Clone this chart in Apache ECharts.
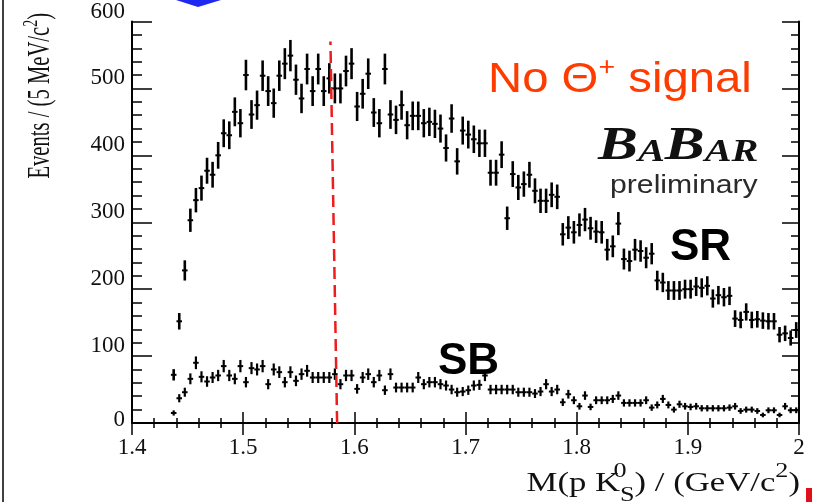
<!DOCTYPE html>
<html>
<head>
<meta charset="utf-8">
<style>
  html, body { margin: 0; padding: 0; background: #fff; }
  #chart { width: 815px; height: 502px; }
</style>
</head>
<body>
<div id="chart"></div>
<script src="https://cdn.jsdelivr.net/npm/echarts/dist/echarts.min.js"></script>
<script>
// bin centres, 5 MeV/c^2 bins
const binCenters = [
  1.4375,1.4425,1.4475,1.4525,1.4575,1.4625,1.4675,1.4725,1.4775,1.4825,
  1.4875,1.4925,1.4975,1.5025,1.5075,1.5125,1.5175,1.5225,1.5275,1.5325,
  1.5375,1.5425,1.5475,1.5525,1.5575,1.5625,1.5675,1.5725,1.5775,1.5825,
  1.5875,1.5925,1.5975,1.6025,1.6075,1.6125,1.6175,1.6225,1.6275,1.6325,
  1.6375,1.6425,1.6475,1.6525,1.6575,1.6625,1.6675,1.6725,1.6775,1.6825,
  1.6875,1.6925,1.6975,1.7025,1.7075,1.7125,1.7175,1.7225,1.7275,1.7325,
  1.7375,1.7425,1.7475,1.7525,1.7575,1.7625,1.7675,1.7725,1.7775,1.7825,
  1.7875,1.7925,1.7975,1.8025,1.8075,1.8125,1.8175,1.8225,1.8275,1.8325,
  1.8375,1.8425,1.8475,1.8525,1.8575,1.8625,1.8675,1.8725,1.8775,1.8825,
  1.8875,1.8925,1.8975,1.9025,1.9075,1.9125,1.9175,1.9225,1.9275,1.9325,
  1.9375,1.9425,1.9475,1.9525,1.9575,1.9625,1.9675,1.9725,1.9775,1.9825,
  1.9875,1.9925,1.9975
];

// signal region
const srCounts = [
  72,152,228,303,333,351,377,371,400,433,
  430,465,448,520,461,475,519,496,478,519,
  537,549,513,485,529,496,529,496,515,500,
  500,526,537,473,492,522,464,448,529,461,
  453,475,445,459,459,448,450,447,440,411,
  455,391,437,431,424,418,418,374,374,401,
  306,372,352,357,371,347,332,332,341,338,
  282,292,285,296,304,291,286,285,259,264,
  298,245,242,259,257,247,253,213,210,198,
  198,198,200,200,204,202,205,186,191,188,
  190,156,154,166,154,155,153,152,152,132,
  134,127,139
];

// sideband
const sbCounts = [
  15,37,46,66,90,69,62,68,71,85,
  71,66,85,61,82,80,85,58,80,76,
  61,76,63,73,78,68,68,68,68,73,
  58,71,71,51,68,73,61,71,49,73,
  53,53,53,53,68,58,61,61,58,56,
  50,46,47,49,56,57,71,50,50,50,
  50,50,46,46,46,44,47,58,47,50,
  31,43,34,25,41,24,34,34,34,36,
  41,30,30,30,30,34,23,27,36,27,
  20,28,25,24,25,22,22,22,22,22,
  23,25,18,20,20,18,12,19,19,12,
  25,19,19
];

// dashed reference line
const thetaLineX = [1.5845, 1.5785];
const thetaLineY = [0, 570];

const halfBin = (binCenters[1] - binCenters[0]) / 2;

function errorBars(lw) {
  return function (params, api) {
    const x = api.value(0), n = api.value(1);
    const e = Math.sqrt(n);
    const hi = api.coord([x, n + e]);
    const lo = api.coord([x, Math.max(n - e, 0)]);
    const l = api.coord([x - halfBin, n]);
    const r = api.coord([x + halfBin, n]);
    return {
      type: 'group',
      children: [
        { type: 'line', shape: { x1: hi[0], y1: hi[1], x2: lo[0], y2: lo[1] }, style: { stroke: '#000', lineWidth: lw } },
        { type: 'line', shape: { x1: l[0], y1: l[1], x2: r[0], y2: r[1] }, style: { stroke: '#000', lineWidth: 2 } }
      ]
    };
  };
}

const serif = 'Liberation Serif';
const sans = 'Liberation Sans';

function frameAxis(pos, tickLen, minorLen, labels) {
  return {
    type: 'value',
    position: pos,
    axisLine: { show: true, lineStyle: { color: '#000', width: 2 } },
    axisTick: { show: true, inside: true, length: tickLen, lineStyle: { color: '#000', width: 1.5 } },
    minorTick: { show: true, splitNumber: 5, length: minorLen, lineStyle: { color: '#000', width: 1.5 } },
    splitLine: { show: false },
    axisLabel: { show: labels }
  };
}

const xBottom = Object.assign(frameAxis('bottom', 11, 5, true), { min: 1.4, max: 2, interval: 0.1 });
xBottom.axisLabel = {
  show: true, margin: 13, color: '#111', fontFamily: serif, fontSize: 23,
  formatter: v => (Math.abs(v - 2) < 1e-9 ? '2' : v.toFixed(1))
};
const xTop = Object.assign(frameAxis('top', 12, 5, false), { min: 1.4, max: 2, interval: 0.1 });

const yLeft = Object.assign(frameAxis('left', 20, 10, true), { min: 0, max: 600, interval: 100 });
yLeft.axisLabel = {
  show: true, margin: 7, color: '#111', fontFamily: serif, fontSize: 23,
  formatter: v => (v === 0 ? '{z|0}' : '{n|' + v + '}'),
  rich: {
    n: { fontFamily: serif, fontSize: 23, color: '#111', padding: [0, 0, 20, 0] },
    z: { fontFamily: serif, fontSize: 23, color: '#111', padding: [0, 0, 6, 0] }
  }
};
const yRight = Object.assign(frameAxis('right', 17, 8, false), { min: 0, max: 600, interval: 100 });

// BABAR logo: big/small caps laid out on one baseline
const measureCtx = document.createElement('canvas').getContext('2d');
function babarLogo(x0, baseline, scale) {
  const pieces = [['B', 46], ['A', 31], ['B', 46], ['AR', 31]];
  let cx = 0;
  const children = pieces.map(([t, fs]) => {
    measureCtx.font = 'italic bold ' + fs + 'px "' + serif + '"';
    const el = {
      type: 'text', x: cx, y: baseline - 0.3375 * fs,
      style: { text: t, fontFamily: serif, fontStyle: 'italic', fontWeight: 'bold', fontSize: fs, fill: '#111', textAlign: 'left', textVerticalAlign: 'middle' }
    };
    cx += measureCtx.measureText(t).width;
    return el;
  });
  return { type: 'group', x: x0, y: 0, scaleX: scale, z: 10, children: children };
}

const chart = echarts.init(document.getElementById('chart'));
chart.setOption({
  animation: false,
  backgroundColor: '#fff',
  grid: { left: 132, right: 16, top: 15, bottom: 79 },
  xAxis: [xBottom, xTop],
  yAxis: [yLeft, yRight],
  series: [
    {
      name: 'SR', type: 'custom', xAxisIndex: 0, yAxisIndex: 0,
      renderItem: errorBars(2.6),
      data: binCenters.map((x, i) => [x, srCounts[i]]),
      z: 3
    },
    {
      name: 'SB', type: 'custom', xAxisIndex: 0, yAxisIndex: 0,
      renderItem: errorBars(2.2),
      data: binCenters.map((x, i) => [x, sbCounts[i]]),
      z: 3
    },
    {
      type: 'line', xAxisIndex: 0, yAxisIndex: 0,
      data: thetaLineX.map((x, i) => [x, thetaLineY[i]]),
      showSymbol: false, symbol: 'none',
      lineStyle: { color: '#ee1c1c', width: 2.5, type: [12, 6] },
      z: 5
    }
  ],
  graphic: [
    { type: 'line', shape: { x1: 3, y1: 0, x2: 3, y2: 502 }, style: { stroke: '#000', lineWidth: 1.5 } },
    { type: 'polygon', shape: { points: [[176, 0], [221, 0], [198, 7]] }, style: { fill: '#1e28f0' } },
    { type: 'rect', shape: { x: 806, y: 488, width: 6, height: 14 }, style: { fill: '#e0101a' } },
    {
      type: 'text', x: 800, y: 462, scaleX: 1.31, z: 10,
      style: {
        text: 'M(p K{k|0}{s|S}) / (GeV/c{p|2})',
        fontFamily: serif, fontSize: 26.5, lineHeight: 44, fill: '#111',
        textAlign: 'right', textVerticalAlign: 'top',
        rich: {
          k: { fontFamily: serif, fontSize: 20, lineHeight: 18, verticalAlign: 'top', align: 'left', width: 0, fill: '#111' },
          s: { fontFamily: serif, fontSize: 20, lineHeight: 18, verticalAlign: 'bottom', align: 'left', fill: '#111' },
          p: { fontFamily: serif, fontSize: 20, lineHeight: 18, verticalAlign: 'top', fill: '#111' }
        }
      }
    },
    {
      type: 'text', x: 41, y: 13, rotation: Math.PI / 2, scaleX: 0.665, z: 10,
      style: {
        text: 'Events / (5 MeV/c{p|2})',
        fontFamily: serif, fontSize: 31, lineHeight: 40, fill: '#111',
        textAlign: 'right', textVerticalAlign: 'middle',
        rich: {
          p: { fontFamily: serif, fontSize: 21, lineHeight: 21, verticalAlign: 'top', fill: '#111' }
        }
      }
    },
    {
      type: 'text', x: 488, y: 80, scaleX: 1.1, z: 10,
      style: {
        text: 'No Θ{p|+} signal',
        fontFamily: sans, fontSize: 43, lineHeight: 50, fill: '#ff3c00',
        textAlign: 'left', textVerticalAlign: 'middle',
        rich: {
          p: { fontFamily: sans, fontSize: 26, lineHeight: 26, verticalAlign: 'top', fill: '#ff3c00' }
        }
      }
    },
    babarLogo(598, 163, 1.3),
    {
      type: 'text', x: 610, y: 186, scaleX: 1.18, z: 10,
      style: { text: 'preliminary', fontFamily: sans, fontSize: 25.6, fill: '#2a2a2a', textAlign: 'left', textVerticalAlign: 'middle' }
    },
    {
      type: 'text', x: 670, y: 248, z: 10,
      style: { text: 'SR', fontFamily: sans, fontWeight: 'bold', fontSize: 44, fill: '#000', textAlign: 'left', textVerticalAlign: 'middle' }
    },
    {
      type: 'text', x: 438, y: 362, z: 10,
      style: { text: 'SB', fontFamily: sans, fontWeight: 'bold', fontSize: 44, fill: '#000', textAlign: 'left', textVerticalAlign: 'middle' }
    }
  ]
});
</script>
</body>
</html>
